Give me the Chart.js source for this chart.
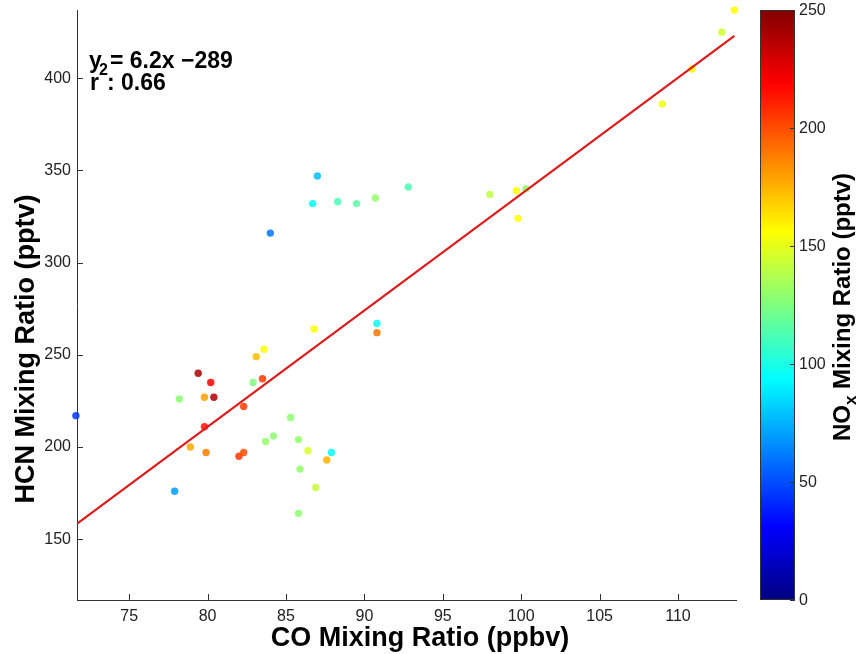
<!DOCTYPE html>
<html>
<head>
<meta charset="utf-8">
<script src="https://cdn.jsdelivr.net/npm/chart.js@4.4.0/dist/chart.umd.min.js"></script>
<style>
  html, body { margin: 0; padding: 0; background: #fff; }
</style>
</head>
<body>
<canvas id="scatterChart" width="863" height="654"></canvas>
<script>
// CO (ppbv), HCN (pptv) and NOx (pptv) for each sample
const coValues = [
    71.6, 78.2, 79.4, 80.2, 79.8, 80.4, 79.8, 78.9, 79.9, 77.9,
    82.3, 82.0, 82.3, 82.9, 83.1, 83.6, 83.5, 83.7, 84.2, 85.3,
    85.8, 86.4, 87.9, 87.6, 85.9, 86.9, 85.8, 86.8, 87.0, 86.7,
    88.3, 89.5, 90.7, 92.8, 84.0, 90.8, 90.8, 98.0, 99.7, 100.3,
    99.8, 109.0, 110.9, 112.8, 113.6
];
const hcnValues = [
    217, 226, 240, 235, 227, 227, 211, 200, 197, 176,
    222, 195, 197, 235, 249, 253, 237, 203, 206, 216,
    204, 198, 197, 193, 188, 178, 164, 264, 347, 332,
    333, 332, 335, 341, 316, 267, 262, 337, 339, 340,
    324, 386, 405, 425, 437
];
const noxValues = [
    45, 128, 240, 222, 180, 238, 215, 178, 188, 70,
    205, 205, 200, 125, 172, 155, 205, 130, 128, 128,
    130, 147, 95, 175, 130, 142, 128, 155, 78, 95,
    112, 115, 130, 112, 60, 95, 190, 140, 156, 130,
    156, 152, 158, 145, 156
];

// regression line end points
const fitX = [71.7, 113.6];
const fitY = [158.5, 423];

const xTicks = [75, 80, 85, 90, 95, 100, 105, 110];
const yTicks = [150, 200, 250, 300, 350, 400];
const cbTicks = [0, 50, 100, 150, 200, 250];
const cbMin = 0;
const cbMax = 250;

const FONT = '"Liberation Sans", Arial, sans-serif';

// MATLAB style jet colormap
function jet(t) {
    const c = v => Math.max(0, Math.min(1, v));
    const r = c(1.5 - Math.abs(4 * t - 3));
    const g = c(1.5 - Math.abs(4 * t - 2));
    const b = c(1.5 - Math.abs(4 * t - 1));
    return [Math.round(r * 255), Math.round(g * 255), Math.round(b * 255)];
}

function jetCss(v, alpha) {
    const [r, g, b] = jet((v - cbMin) / (cbMax - cbMin));
    return `rgba(${r},${g},${b},${alpha})`;
}

const points = coValues.map((x, i) => ({ x: x, y: hcnValues[i] }));
const fitPoints = fitX.map((x, i) => ({ x: x, y: fitY[i] }));

// small inward tick marks, MATLAB style
const innerTicks = {
    id: 'innerTicks',
    afterDraw(chart) {
        const ctx = chart.ctx;
        const xs = chart.scales.x;
        const ys = chart.scales.y;
        ctx.save();
        ctx.strokeStyle = '#333';
        ctx.lineWidth = 1;
        ctx.beginPath();
        xTicks.forEach(v => {
            const px = Math.round(xs.getPixelForValue(v)) + 0.5;
            ctx.moveTo(px, ys.bottom);
            ctx.lineTo(px, ys.bottom - 6);
        });
        yTicks.forEach(v => {
            const py = Math.round(ys.getPixelForValue(v)) + 0.5;
            ctx.moveTo(xs.left, py);
            ctx.lineTo(xs.left + 6, py);
        });
        ctx.stroke();
        ctx.restore();
    }
};

// axis titles and regression annotation
const labels = {
    id: 'labels',
    afterDraw(chart) {
        const ctx = chart.ctx;
        ctx.save();
        ctx.fillStyle = '#000';
        ctx.textAlign = 'center';
        ctx.textBaseline = 'middle';
        ctx.font = `bold 27px ${FONT}`;
        ctx.fillText('CO Mixing Ratio (ppbv)', 420, 639);
        ctx.save();
        ctx.translate(27, 349);
        ctx.rotate(-Math.PI / 2);
        ctx.fillText('HCN Mixing Ratio (pptv)', 0, 0);
        ctx.restore();

        ctx.textBaseline = 'alphabetic';
        ctx.textAlign = 'left';
        ctx.font = `bold 23px ${FONT}`;
        ctx.fillText('y', 89, 68);
        ctx.fillText('= 6.2x \u2212289', 110, 68);
        ctx.fillText('r', 90, 90);
        ctx.fillText(': 0.66', 107, 90);
        ctx.font = `bold 16px ${FONT}`;
        ctx.fillText('2', 99, 75);
        ctx.restore();
    }
};

// jet colour bar on the right
const colorBar = {
    id: 'colorBar',
    afterDraw(chart) {
        const ctx = chart.ctx;
        const area = chart.chartArea;
        const left = 760, right = 795;
        const top = area.top, bottom = area.bottom;
        const toY = v => bottom - (v - cbMin) / (cbMax - cbMin) * (bottom - top);
        ctx.save();
        const grad = ctx.createLinearGradient(0, bottom, 0, top);
        [0, 0.125, 0.375, 0.625, 0.875, 1].forEach(t => {
            const [r, g, b] = jet(t);
            grad.addColorStop(t, `rgb(${r},${g},${b})`);
        });
        ctx.fillStyle = grad;
        ctx.fillRect(left, top, right - left, bottom - top);
        ctx.strokeStyle = '#333';
        ctx.lineWidth = 1;
        ctx.strokeRect(left + 0.5, top + 0.5, right - left - 1, bottom - top - 1);

        ctx.beginPath();
        cbTicks.forEach(v => {
            const py = Math.round(toY(v)) + 0.5;
            ctx.moveTo(right, py);
            ctx.lineTo(right - 5, py);
        });
        ctx.stroke();

        ctx.fillStyle = '#222';
        ctx.font = `16px ${FONT}`;
        ctx.textAlign = 'left';
        ctx.textBaseline = 'middle';
        cbTicks.forEach(v => {
            ctx.fillText(String(v), right + 4, toY(v) + 1);
        });

        // rotated title with subscript x
        ctx.translate(843, 307);
        ctx.rotate(-Math.PI / 2);
        ctx.fillStyle = '#000';
        ctx.textBaseline = 'middle';
        const big = `bold 24px ${FONT}`;
        const small = `bold 17px ${FONT}`;
        ctx.font = big;
        const w1 = ctx.measureText('NO').width;
        const w3 = ctx.measureText(' Mixing Ratio (pptv)').width;
        ctx.font = small;
        const w2 = ctx.measureText('x').width;
        const x0 = -(w1 + w2 + w3) / 2;
        ctx.font = big;
        ctx.fillText('NO', x0, 0);
        ctx.font = small;
        ctx.fillText('x', x0 + w1, 8);
        ctx.font = big;
        ctx.fillText(' Mixing Ratio (pptv)', x0 + w1 + w2, 0);
        ctx.restore();
    }
};

const ctx = document.getElementById('scatterChart').getContext('2d');
new Chart(ctx, {
    type: 'scatter',
    data: {
        datasets: [
            {
                type: 'line',
                label: 'Fit',
                data: fitPoints,
                borderColor: '#dd1c1c',
                borderWidth: 2.2,
                pointRadius: 0,
                fill: false,
                tension: 0,
                clip: false
            },
            {
                label: 'Samples',
                data: points,
                backgroundColor: noxValues.map(v => jetCss(v, 0.85)),
                borderWidth: 0,
                pointRadius: 3.7,
                pointHoverRadius: 3.7,
                clip: false
            }
        ]
    },
    options: {
        responsive: false,
        animation: false,
        layout: {
            padding: { top: 10, right: 127, left: 0, bottom: 0 }
        },
        plugins: {
            legend: { display: false },
            tooltip: { enabled: false }
        },
        scales: {
            x: {
                type: 'linear',
                min: 71.67,
                max: 113.7,
                afterBuildTicks: scale => {
                    scale.ticks = xTicks.map(v => ({ value: v }));
                },
                afterFit: scale => {
                    scale.height = 54;
                    scale.paddingLeft = 0;
                    scale.paddingRight = 0;
                },
                grid: { display: false, drawTicks: false },
                border: { display: true, color: '#333', width: 1 },
                ticks: {
                    padding: 7,
                    color: '#222',
                    font: { family: FONT, size: 16 }
                }
            },
            y: {
                type: 'linear',
                min: 117,
                max: 437,
                afterBuildTicks: scale => {
                    scale.ticks = yTicks.map(v => ({ value: v }));
                },
                afterFit: scale => {
                    scale.width = 77;
                    scale.paddingTop = 0;
                    scale.paddingBottom = 0;
                },
                grid: { display: false, drawTicks: false },
                border: { display: true, color: '#333', width: 1 },
                ticks: {
                    padding: 6,
                    color: '#222',
                    font: { family: FONT, size: 16 }
                }
            }
        }
    },
    plugins: [innerTicks, labels, colorBar]
});
</script>
</body>
</html>
